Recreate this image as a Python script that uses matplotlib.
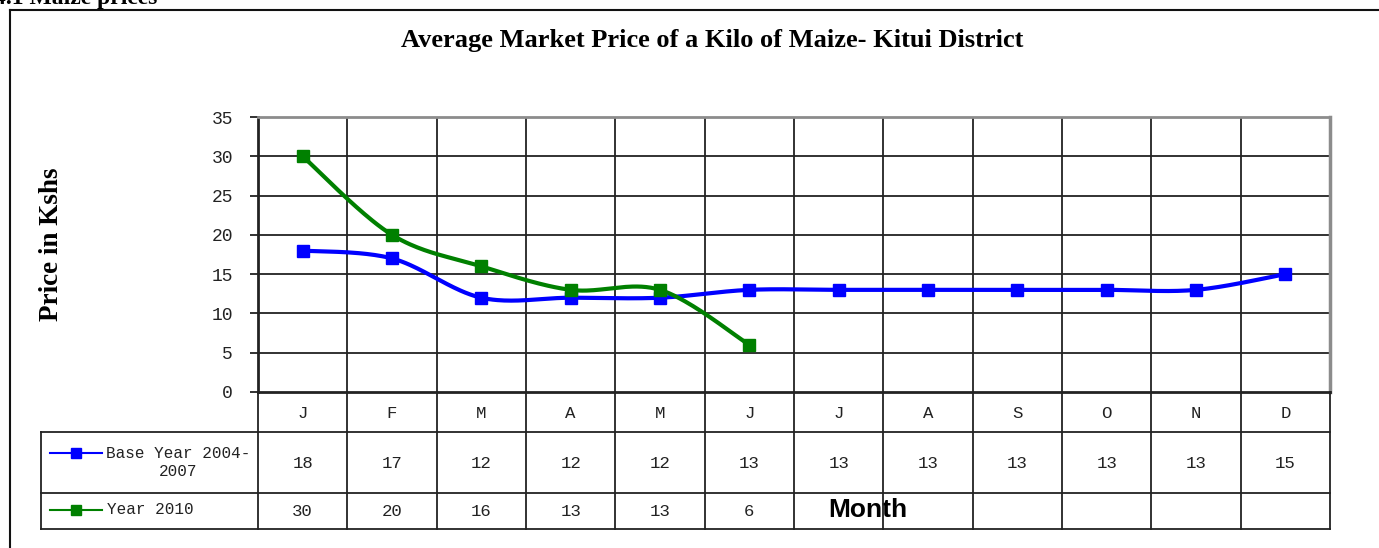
import numpy as np
import matplotlib
matplotlib.use('Agg')
import matplotlib.pyplot as plt
from matplotlib.lines import Line2D

# data
months = ['J', 'F', 'M', 'A', 'M', 'J', 'J', 'A', 'S', 'O', 'N', 'D']
base_year = [18, 17, 12, 12, 12, 13, 13, 13, 13, 13, 13, 15]
year_2010 = [30, 20, 16, 13, 13, 6]
series_names = ['Base Year 2004-\n2007', 'Year 2010']
series_colors = ['#0000FF', '#008000']
yticks = [0, 5, 10, 15, 20, 25, 30, 35]

title = 'Average Market Price of a Kilo of Maize- Kitui District'
ylabel = 'Price in Kshs'
xlabel = 'Month'

W, H = 1379, 548
SERIF = 'Liberation Serif'
MONO = 'Liberation Mono'


def px(x0, y0, x1, y1):
    # pixel box (top-left origin) -> figure rect
    return [x0 / W, 1 - y1 / H, (x1 - x0) / W, (y1 - y0) / H]


def smooth(y, n=40):
    # excel style smoothed line (bezier through the points)
    y = np.asarray(y, dtype=float)
    p = np.column_stack([np.arange(len(y), dtype=float), y])
    pad = np.vstack([p[0], p, p[-1]])
    t = np.linspace(0, 1, n)[:, None]
    segs = []
    for i in range(len(p) - 1):
        p0, p1 = pad[i + 1], pad[i + 2]
        c1 = p0 + (pad[i + 2] - pad[i]) / 6
        c2 = p1 - (pad[i + 3] - pad[i + 1]) / 6
        segs.append((1 - t) ** 3 * p0 + 3 * (1 - t) ** 2 * t * c1
                    + 3 * (1 - t) * t ** 2 * c2 + t ** 3 * p1)
    pts = np.vstack(segs)
    return pts[:, 0], pts[:, 1]


fig = plt.figure(figsize=(W / 100, H / 100), dpi=100)

# plot area
ax = fig.add_axes(px(258, 117, 1330, 392))
ax.set_xlim(-0.5, len(months) - 0.5)
ax.set_ylim(yticks[0], yticks[-1])
for yt in yticks[1:-1]:
    ax.axhline(yt, color='#222222', lw=1.3, zorder=1)
for k in range(1, len(months)):
    ax.axvline(k - 0.5, color='#222222', lw=1.3, zorder=1)

for vals, col in zip([base_year, year_2010], series_colors):
    sx, sy = smooth(vals)
    ax.plot(sx, sy, color=col, lw=3, zorder=3, solid_capstyle='round')
    ax.plot(range(len(vals)), vals, ls='none', marker='s', ms=8.2,
            color=col, zorder=4)

ax.set_xticks([])
ax.set_yticks(yticks)
ax.set_yticklabels([str(v) for v in yticks], family=MONO, fontsize=13,
                   color='#222222')
ax.tick_params(axis='y', length=6, width=1.3, pad=12, color='#222222')
ax.spines['left'].set_color('#222222')
ax.spines['bottom'].set_color('#222222')
ax.spines['left'].set_linewidth(2)
ax.spines['bottom'].set_linewidth(2)
ax.spines['top'].set_color('#8c8c8c')
ax.spines['right'].set_color('#8c8c8c')
ax.spines['top'].set_linewidth(2)
ax.spines['right'].set_linewidth(2.5)

# data table under the plot
colw = (1330 - 258) / len(months)


def tx(xp):
    return -0.5 + (xp - 258) / colw


tax = fig.add_axes(px(41, 392, 1330, 529))
tax.set_xlim(tx(41), len(months) - 0.5)
tax.set_ylim(137, 0)
tax.axis('off')
lk = dict(color='#222222', lw=1.3, zorder=5, clip_on=False)
tax.plot([tx(41), len(months) - 0.5], [40, 40], **lk)
tax.plot([tx(41), len(months) - 0.5], [101, 101], **lk)
tax.plot([tx(41), len(months) - 0.5], [137, 137], **lk)
tax.plot([tx(41), tx(41)], [40, 137], **lk)
for k in range(len(months) + 1):
    tax.plot([k - 0.5, k - 0.5], [0, 137], **lk)

tk = dict(family=MONO, fontsize=12.5, color='#222222', ha='center', va='center')
for i, m in enumerate(months):
    tax.text(i, 21, m, **tk)
for i, v in enumerate(base_year):
    tax.text(i, 72, str(v), **tk)
for i, v in enumerate(year_2010):
    tax.text(i, 120, str(v), **tk)

# legend keys inside the table
for name, col, yy, xt in zip(series_names, series_colors, [71, 118], [178, 107]):
    ky = yy - 10 if '\n' in name else yy
    tax.plot([tx(50), tx(102)], [ky, ky], color=col, lw=1.5, zorder=6)
    tax.plot([tx(76)], [ky], marker='s', ms=6.5, color=col, zorder=6)
    if '\n' in name:
        tax.text(tx(xt), yy, name, family=MONO, fontsize=11.5,
                 color='#222222', ha='center', va='center', linespacing=1.25)
    else:
        tax.text(tx(xt), yy, name, family=MONO, fontsize=11.5,
                 color='#222222', ha='left', va='center')

tax.text(tx(868), 118, xlabel, family='Liberation Sans', fontweight='bold',
         fontsize=19, ha='center', va='center', zorder=4)

# titles
fig.text(712 / W, 1 - 40 / H, title, family=SERIF, fontweight='bold',
         fontsize=19, ha='center', va='center')
fig.text(52 / W, 1 - 244 / H, ylabel, family=SERIF, fontweight='bold',
         fontsize=19.5, rotation=90, ha='center', va='center')
fig.text(-6 / W, 1 - 4 / H, '4.1 Maize prices', family=SERIF,
         fontweight='bold', fontsize=17, ha='left', va='baseline')

# outer chart frame
fig.add_artist(Line2D([9.5 / W, 9.5 / W], [0, 1 - 10 / H], color='#111111',
                      lw=1.5, transform=fig.transFigure))
fig.add_artist(Line2D([9.5 / W, 1], [1 - 10 / H, 1 - 10 / H],
                      color='#111111', lw=1.5, transform=fig.transFigure))

fig.savefig('out.png', dpi=100)
